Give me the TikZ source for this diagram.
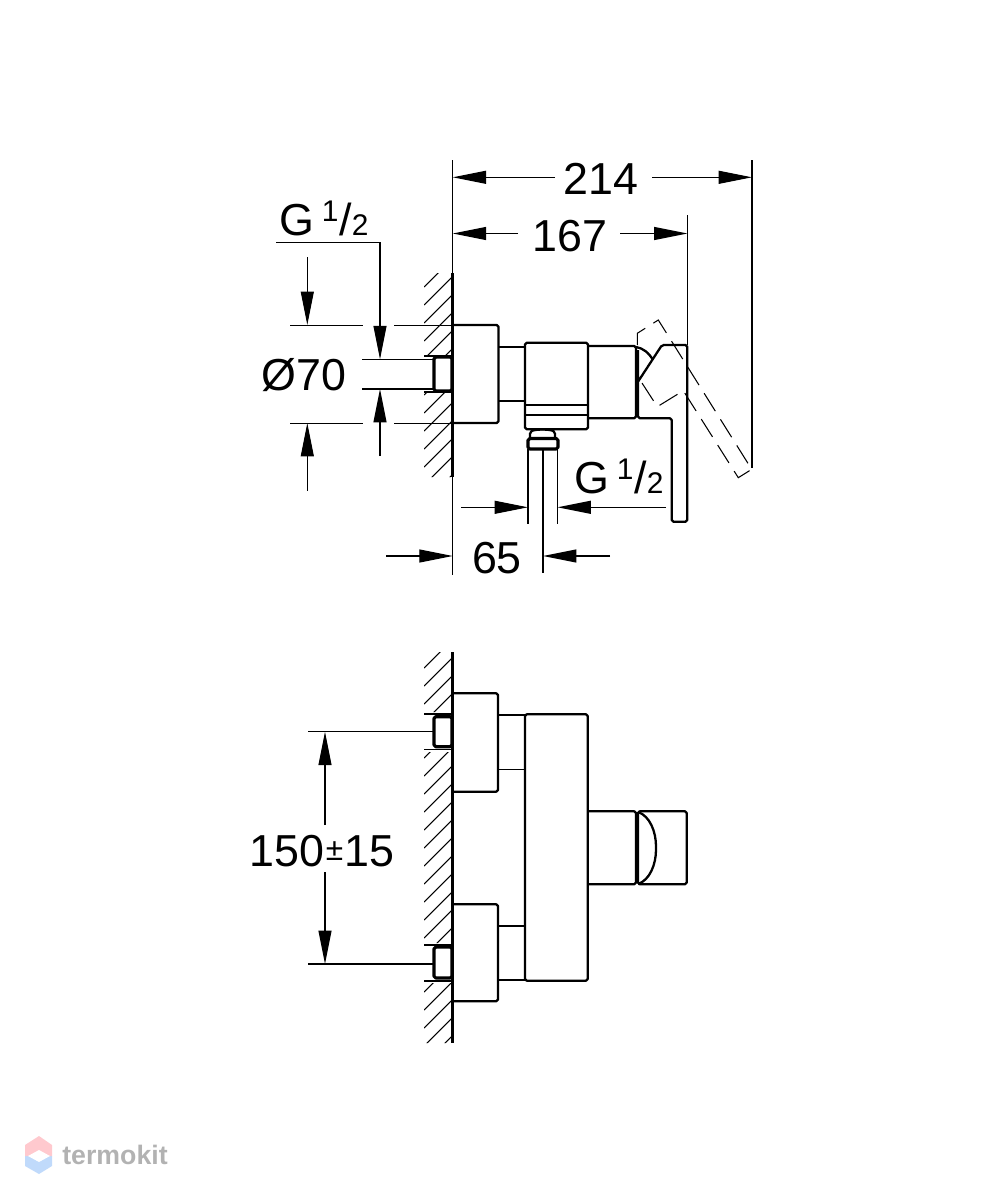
\documentclass[tikz,border=0pt]{standalone}
\usepackage{fontspec}
\setmainfont{Liberation Sans}
\usetikzlibrary{arrows.meta}
\definecolor{brandred}{HTML}{FFC9CE}
\definecolor{brandblue}{HTML}{C0DAFB}
\newcommand{\threadlabel}{G\hspace{0.17em}\raisebox{0.30em}{\fontsize{17}{18}\selectfont 1}\hspace{0.02em}\fontsize{25.5}{30}\selectfont /\fontsize{17}{18}\selectfont 2}
\tikzset{
  thinline/.style={line width=0.6pt},
  linkline/.style={line width=0.9pt},
  partline/.style={line width=1.3pt, line join=round, rounded corners=1pt},
  stubline/.style={line width=1.8pt, line join=round, rounded corners=1pt},
  dashline/.style={line width=0.6pt, dash pattern=on 12pt off 5.5pt},
  dimarrow/.style={line width=0.6pt, -{Triangle[length=19pt,width=7.4pt]}},
  dimtext/.style={font=\fontsize{25.5}{30}\selectfont, inner sep=0pt, anchor=base},
}
\begin{document}
\begin{tikzpicture}[x=0.02cm,y=-0.02cm]
\useasboundingbox (0,0) rectangle (999,1200);

\draw[thinline] (452.7,160) -- (452.7,575);
\draw[line width=1.5pt] (452.7,273) -- (452.7,477);
\begin{scope}
\clip (424,273) rectangle (452,355) (424,393) rectangle (452,477);
\foreach \y in {287,305,...,521}
  \draw[thinline] (424,\y) -- (452,\y-28);
\end{scope}

\draw[partline] (452.7,325) -- (498.5,325) -- (498.5,423) -- (452.7,423);
\draw[stubline] (434,357) rectangle (452,391);
\draw[thinline] (424,356) -- (452,356) (424,392) -- (452,392);
\draw[linkline] (498.5,347) -- (525,347) (498.5,401) -- (525,401);
\draw[partline] (525,342.7) rectangle (588,429.3);
\draw[partline] (525,405.3) -- (588,405.3) (525,415.3) -- (588,415.3);
\draw[partline] (530,438) -- (530,432) .. controls (535,429) and (550,429) .. (555,432) -- (555,438);
\draw[stubline] (528,438.5) rectangle (558,449);
\draw[partline] (588,346) -- (636,346) -- (636,418.3) -- (588,418.3);
\draw[partline] (638,350) -- (638,418.3) -- (671.7,418.3) -- (671.7,521.7) -- (687.3,521.7) -- (687.3,345) -- (662,345) -- (638,381.7);
\draw[partline] (636,347) .. controls (643,348) and (649,353) .. (653,360);
\draw[dashline] (637.3,345) -- (637.3,333.3) -- (658.3,320) -- (751.7,469.3) -- (738.3,477.7) -- (683.3,390.7) -- (657.3,406.7) -- (638.3,377.3);

\draw[thinline] (687.5,215) -- (687.5,345);
\draw[thinline] (752,160) -- (752,468);
\draw[thinline] (528,449) -- (528,524) (557.5,449) -- (557.5,524);
\draw[thinline] (543,449) -- (543,573);

\node[dimtext] (width) at (601,194) {214};
\draw[dimarrow] (555,177.3) -- (452.7,177.3);
\draw[dimarrow] (652,177.3) -- (752,177.3);
\node[dimtext] (depth) at (570,251) {167};
\draw[dimarrow] (518,233.5) -- (452.7,233.5);
\draw[dimarrow] (620,233.5) -- (687.5,233.5);

\node[dimtext] (threadtop) at (324,235) {\threadlabel};
\draw[dimarrow] (276,242.7) -- (380,242.7) -- (380,359.3);
\draw[thinline] (290,325.5) -- (362.7,325.5) (394,325.5) -- (452.7,325.5);
\draw[thinline] (290,423.5) -- (362.7,423.5) (394,423.5) -- (452.7,423.5);
\draw[thinline] (362,359.5) -- (434,359.5) (362,389) -- (434,389);
\draw[dimarrow] (307.3,257.3) -- (307.3,325);
\draw[dimarrow] (307.3,490.7) -- (307.3,423);
\draw[dimarrow] (380,456) -- (380,389);
\node[dimtext] (diameter) at (304,390) {Ø70};

\node[dimtext] (threadlow) at (619,493) {\threadlabel};
\draw[dimarrow] (461,507.3) -- (528,507.3);
\draw[dimarrow] (666,507.3) -- (557.5,507.3);
\node[dimtext] (outlet) at (497,573) {65};
\draw[dimarrow] (386,556) -- (452.7,556);
\draw[dimarrow] (610,556) -- (543,556);

\draw[line width=1.5pt] (452.7,652) -- (452.7,1043);
\begin{scope}
\clip (424,652) rectangle (452,712) (424,752) rectangle (452,943) (424,983) rectangle (452,1043);
\foreach \y in {668,686,...,1082}
  \draw[thinline] (424,\y) -- (452,\y-28);
\end{scope}

\draw[partline] (452.7,693.3) -- (498,693.3) -- (498,791.7) -- (452.7,791.7);
\draw[partline] (452.7,904.3) -- (498,904.3) -- (498,1001.3) -- (452.7,1001.3);
\draw[stubline] (434,716.7) rectangle (452,746.7);
\draw[stubline] (434,947) rectangle (452,978);
\draw[thinline] (424,714) -- (452,714) (424,749.5) -- (452,749.5);
\draw[thinline] (424,945) -- (452,945) (424,981) -- (452,981);
\draw[linkline] (498,715) -- (525,715) (498,769.3) -- (525,769.3);
\draw[linkline] (498,926) -- (525,926) (498,980) -- (525,980);
\draw[partline] (525,714.3) rectangle (587.7,980.7);
\draw[partline] (587.7,811.3) -- (636,811.3) -- (636,884.3) -- (587.7,884.3);
\draw[partline] (638,811.3) rectangle (686.7,884.3);
\draw[partline] (638,812) .. controls (650,816) and (656,832) .. (656,848) .. controls (656,864) and (650,880) .. (638,884);

\draw[thinline] (308,731.5) -- (434,731.5) (308,964) -- (434,964);
\node[dimtext] (spacing) at (322,866) {150\hspace{0.04em}\raisebox{0.12em}{\fontsize{18}{18}\selectfont ±}\hspace{0.04em}15};
\draw[dimarrow] (325,825) -- (325,731.7);
\draw[dimarrow] (325,872) -- (325,964);

\fill[brandblue] (25,1156) -- (25,1166) -- (39,1174) -- (52,1166) -- (52,1156) -- cycle;
\fill[brandred] (25,1156) -- (25,1145) -- (39,1136) -- (52,1145) -- (52,1156) -- cycle;
\fill[white] (28,1156) -- (39,1150) -- (50,1156) -- (39,1162) -- cycle;
\node[font=\bfseries\fontsize{15.2}{18}\selectfont, text=black!30, inner sep=0pt, anchor=base west] (brand) at (62,1164) {termokit};
\end{tikzpicture}
\end{document}
